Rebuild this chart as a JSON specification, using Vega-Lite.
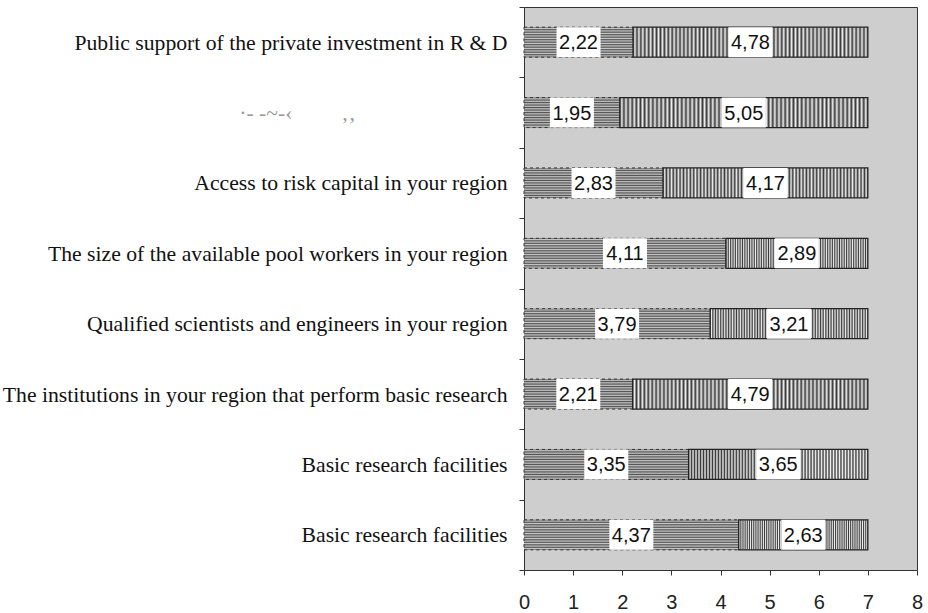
{
  "$schema": "https://vega.github.io/schema/vega-lite/v6.json",
  "width": 393,
  "height": 563,
  "autosize": "none",
  "padding": {"left": 524, "top": 7, "right": 11, "bottom": 43},
  "background": "white",
  "config": {
    "locale": {
      "number": {"decimal": ",", "thousands": ".", "grouping": [3], "currency": ["", " €"]}
    },
    "view": {"fill": "#cecece", "stroke": "#333333", "strokeWidth": 1}
  },
  "data": {
    "values": [
      {"row": 1, "part": "a", "value": 2.22},
      {"row": 1, "part": "b", "value": 4.78},
      {"row": 2, "part": "a", "value": 1.95},
      {"row": 2, "part": "b", "value": 5.05},
      {"row": 3, "part": "a", "value": 2.83},
      {"row": 3, "part": "b", "value": 4.17},
      {"row": 4, "part": "a", "value": 4.11},
      {"row": 4, "part": "b", "value": 2.89},
      {"row": 5, "part": "a", "value": 3.79},
      {"row": 5, "part": "b", "value": 3.21},
      {"row": 6, "part": "a", "value": 2.21},
      {"row": 6, "part": "b", "value": 4.79},
      {"row": 7, "part": "a", "value": 3.35},
      {"row": 7, "part": "b", "value": 3.65},
      {"row": 8, "part": "a", "value": 4.37},
      {"row": 8, "part": "b", "value": 2.63}
    ]
  },
  "transform": [
    {"stack": "value", "groupby": ["row"], "sort": [{"field": "part", "order": "ascending"}], "as": ["v0", "v1"]},
    {"calculate": "(datum.v0 + datum.v1) / 2", "as": "mid"}
  ],
  "encoding": {
    "y": {
      "field": "row",
      "type": "ordinal",
      "sort": "ascending",
      "scale": {"paddingInner": 0, "paddingOuter": 0},
      "axis": {
        "title": null,
        "domain": false,
        "ticks": true,
        "tickBand": "extent",
        "tickSize": 5,
        "tickColor": "#333333",
        "labelFont": "Liberation Serif",
        "labelFontSize": 21.7,
        "labelColor": {"condition": {"test": "datum.value == 2", "value": "#9a9a9a"}, "value": "#111111"},
        "labelPadding": 12,
        "labelLimit": 0,
        "labelExpr": "['Public support of the private investment in R & D', '·- -~-‹\u00a0\u00a0\u00a0\u00a0\u00a0\u00a0\u00a0\u00a0\u00a0‚‚\u00a0\u00a0\u00a0\u00a0\u00a0\u00a0\u00a0\u00a0\u00a0\u00a0\u00a0\u00a0\u00a0\u00a0\u00a0\u00a0\u00a0\u00a0\u00a0\u00a0\u00a0\u00a0\u00a0\u00a0\u00a0\u00a0\u00a0\u00a0\u200b', 'Access to risk capital in your region', 'The size of the available pool workers in your region', 'Qualified scientists and engineers in your region', 'The institutions in your region that perform basic research', 'Basic research facilities', 'Basic research facilities'][toNumber(datum.value) - 1]"
      }
    }
  },
  "layer": [
    {
      "transform": [{"filter": "datum.part == 'a'"}],
      "mark": {
        "type": "bar",
        "size": 30,
        "stroke": "#333333",
        "strokeWidth": 1,
        "strokeDash": [3, 3],
        "fill": {
          "gradient": "linear", "x1": 0, "y1": 0, "x2": 0, "y2": 1,
          "stops": [
            {"offset": 0, "color": "#505050"}, {"offset": 0.0417, "color": "#cacaca"},
            {"offset": 0.0833, "color": "#505050"}, {"offset": 0.125, "color": "#cacaca"},
            {"offset": 0.1667, "color": "#505050"}, {"offset": 0.2083, "color": "#cacaca"},
            {"offset": 0.25, "color": "#505050"}, {"offset": 0.2917, "color": "#cacaca"},
            {"offset": 0.3333, "color": "#505050"}, {"offset": 0.375, "color": "#cacaca"},
            {"offset": 0.4167, "color": "#505050"}, {"offset": 0.4583, "color": "#cacaca"},
            {"offset": 0.5, "color": "#505050"}, {"offset": 0.5417, "color": "#cacaca"},
            {"offset": 0.5833, "color": "#505050"}, {"offset": 0.625, "color": "#cacaca"},
            {"offset": 0.6667, "color": "#505050"}, {"offset": 0.7083, "color": "#cacaca"},
            {"offset": 0.75, "color": "#505050"}, {"offset": 0.7917, "color": "#cacaca"},
            {"offset": 0.8333, "color": "#505050"}, {"offset": 0.875, "color": "#cacaca"},
            {"offset": 0.9167, "color": "#505050"}, {"offset": 0.9583, "color": "#cacaca"},
            {"offset": 1, "color": "#505050"}
          ]
        }
      },
      "encoding": {
        "x": {"field": "v0", "type": "quantitative"},
        "x2": {"field": "v1"}
      }
    },
    {
      "transform": [{"filter": "datum.part == 'b'"}],
      "mark": {
        "type": "bar",
        "size": 30,
        "stroke": "#222222",
        "strokeWidth": 1.2,
        "fill": {
          "gradient": "linear", "x1": 0, "y1": 0, "x2": 1, "y2": 0,
          "stops": [
            {"offset": 0, "color": "#3a3a3a"}, {"offset": 0.0083, "color": "#eeeeee"}, {"offset": 0.0167, "color": "#3a3a3a"}, {"offset": 0.025, "color": "#eeeeee"},
            {"offset": 0.0333, "color": "#3a3a3a"}, {"offset": 0.0417, "color": "#eeeeee"}, {"offset": 0.05, "color": "#3a3a3a"}, {"offset": 0.0583, "color": "#eeeeee"},
            {"offset": 0.0667, "color": "#3a3a3a"}, {"offset": 0.075, "color": "#eeeeee"}, {"offset": 0.0833, "color": "#3a3a3a"}, {"offset": 0.0917, "color": "#eeeeee"},
            {"offset": 0.1, "color": "#3a3a3a"}, {"offset": 0.1083, "color": "#eeeeee"}, {"offset": 0.1167, "color": "#3a3a3a"}, {"offset": 0.125, "color": "#eeeeee"},
            {"offset": 0.1333, "color": "#3a3a3a"}, {"offset": 0.1417, "color": "#eeeeee"}, {"offset": 0.15, "color": "#3a3a3a"}, {"offset": 0.1583, "color": "#eeeeee"},
            {"offset": 0.1667, "color": "#3a3a3a"}, {"offset": 0.175, "color": "#eeeeee"}, {"offset": 0.1833, "color": "#3a3a3a"}, {"offset": 0.1917, "color": "#eeeeee"},
            {"offset": 0.2, "color": "#3a3a3a"}, {"offset": 0.2083, "color": "#eeeeee"}, {"offset": 0.2167, "color": "#3a3a3a"}, {"offset": 0.225, "color": "#eeeeee"},
            {"offset": 0.2333, "color": "#3a3a3a"}, {"offset": 0.2417, "color": "#eeeeee"}, {"offset": 0.25, "color": "#3a3a3a"}, {"offset": 0.2583, "color": "#eeeeee"},
            {"offset": 0.2667, "color": "#3a3a3a"}, {"offset": 0.275, "color": "#eeeeee"}, {"offset": 0.2833, "color": "#3a3a3a"}, {"offset": 0.2917, "color": "#eeeeee"},
            {"offset": 0.3, "color": "#3a3a3a"}, {"offset": 0.3083, "color": "#eeeeee"}, {"offset": 0.3167, "color": "#3a3a3a"}, {"offset": 0.325, "color": "#eeeeee"},
            {"offset": 0.3333, "color": "#3a3a3a"}, {"offset": 0.3417, "color": "#eeeeee"}, {"offset": 0.35, "color": "#3a3a3a"}, {"offset": 0.3583, "color": "#eeeeee"},
            {"offset": 0.3667, "color": "#3a3a3a"}, {"offset": 0.375, "color": "#eeeeee"}, {"offset": 0.3833, "color": "#3a3a3a"}, {"offset": 0.3917, "color": "#eeeeee"},
            {"offset": 0.4, "color": "#3a3a3a"}, {"offset": 0.4083, "color": "#eeeeee"}, {"offset": 0.4167, "color": "#3a3a3a"}, {"offset": 0.425, "color": "#eeeeee"},
            {"offset": 0.4333, "color": "#3a3a3a"}, {"offset": 0.4417, "color": "#eeeeee"}, {"offset": 0.45, "color": "#3a3a3a"}, {"offset": 0.4583, "color": "#eeeeee"},
            {"offset": 0.4667, "color": "#3a3a3a"}, {"offset": 0.475, "color": "#eeeeee"}, {"offset": 0.4833, "color": "#3a3a3a"}, {"offset": 0.4917, "color": "#eeeeee"},
            {"offset": 0.5, "color": "#3a3a3a"}, {"offset": 0.5083, "color": "#eeeeee"}, {"offset": 0.5167, "color": "#3a3a3a"}, {"offset": 0.525, "color": "#eeeeee"},
            {"offset": 0.5333, "color": "#3a3a3a"}, {"offset": 0.5417, "color": "#eeeeee"}, {"offset": 0.55, "color": "#3a3a3a"}, {"offset": 0.5583, "color": "#eeeeee"},
            {"offset": 0.5667, "color": "#3a3a3a"}, {"offset": 0.575, "color": "#eeeeee"}, {"offset": 0.5833, "color": "#3a3a3a"}, {"offset": 0.5917, "color": "#eeeeee"},
            {"offset": 0.6, "color": "#3a3a3a"}, {"offset": 0.6083, "color": "#eeeeee"}, {"offset": 0.6167, "color": "#3a3a3a"}, {"offset": 0.625, "color": "#eeeeee"},
            {"offset": 0.6333, "color": "#3a3a3a"}, {"offset": 0.6417, "color": "#eeeeee"}, {"offset": 0.65, "color": "#3a3a3a"}, {"offset": 0.6583, "color": "#eeeeee"},
            {"offset": 0.6667, "color": "#3a3a3a"}, {"offset": 0.675, "color": "#eeeeee"}, {"offset": 0.6833, "color": "#3a3a3a"}, {"offset": 0.6917, "color": "#eeeeee"},
            {"offset": 0.7, "color": "#3a3a3a"}, {"offset": 0.7083, "color": "#eeeeee"}, {"offset": 0.7167, "color": "#3a3a3a"}, {"offset": 0.725, "color": "#eeeeee"},
            {"offset": 0.7333, "color": "#3a3a3a"}, {"offset": 0.7417, "color": "#eeeeee"}, {"offset": 0.75, "color": "#3a3a3a"}, {"offset": 0.7583, "color": "#eeeeee"},
            {"offset": 0.7667, "color": "#3a3a3a"}, {"offset": 0.775, "color": "#eeeeee"}, {"offset": 0.7833, "color": "#3a3a3a"}, {"offset": 0.7917, "color": "#eeeeee"},
            {"offset": 0.8, "color": "#3a3a3a"}, {"offset": 0.8083, "color": "#eeeeee"}, {"offset": 0.8167, "color": "#3a3a3a"}, {"offset": 0.825, "color": "#eeeeee"},
            {"offset": 0.8333, "color": "#3a3a3a"}, {"offset": 0.8417, "color": "#eeeeee"}, {"offset": 0.85, "color": "#3a3a3a"}, {"offset": 0.8583, "color": "#eeeeee"},
            {"offset": 0.8667, "color": "#3a3a3a"}, {"offset": 0.875, "color": "#eeeeee"}, {"offset": 0.8833, "color": "#3a3a3a"}, {"offset": 0.8917, "color": "#eeeeee"},
            {"offset": 0.9, "color": "#3a3a3a"}, {"offset": 0.9083, "color": "#eeeeee"}, {"offset": 0.9167, "color": "#3a3a3a"}, {"offset": 0.925, "color": "#eeeeee"},
            {"offset": 0.9333, "color": "#3a3a3a"}, {"offset": 0.9417, "color": "#eeeeee"}, {"offset": 0.95, "color": "#3a3a3a"}, {"offset": 0.9583, "color": "#eeeeee"},
            {"offset": 0.9667, "color": "#3a3a3a"}, {"offset": 0.975, "color": "#eeeeee"}, {"offset": 0.9833, "color": "#3a3a3a"}, {"offset": 0.9917, "color": "#eeeeee"},
            {"offset": 1, "color": "#3a3a3a"}
          ]
        }
      },
      "encoding": {
        "x": {
          "field": "v0",
          "type": "quantitative",
          "scale": {"domain": [0, 8], "nice": false, "zero": true},
          "axis": {
            "title": null,
            "grid": false,
            "domain": false,
            "values": [0, 1, 2, 3, 4, 5, 6, 7, 8],
            "format": "d",
            "tickSize": 5,
            "tickColor": "#333333",
            "labelFont": "Liberation Sans",
            "labelFontSize": 20,
            "labelColor": "#222222",
            "labelPadding": 17,
            "labelFlush": false
          }
        },
        "x2": {"field": "v1"}
      }
    },
    {
      "mark": {"type": "tick", "color": "white", "opacity": 1, "thickness": 44, "size": 30, "orient": "vertical"},
      "encoding": {
        "x": {"field": "mid", "type": "quantitative"}
      }
    },
    {
      "mark": {"type": "text", "font": "Liberation Sans", "fontSize": 20, "color": "#111111", "align": "center", "baseline": "middle", "dy": 1},
      "encoding": {
        "x": {"field": "mid", "type": "quantitative"},
        "text": {"field": "value", "type": "quantitative", "format": ".2f"}
      }
    }
  ]
}
